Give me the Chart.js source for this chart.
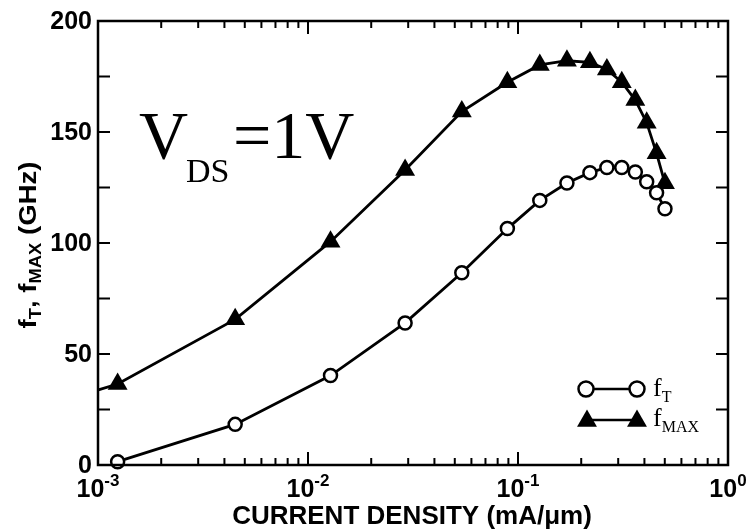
<!DOCTYPE html>
<html>
<head>
<meta charset="utf-8">
<script src="https://cdn.jsdelivr.net/npm/chart.js@4.4.0/dist/chart.umd.min.js"></script>
<style>
  html, body { margin: 0; padding: 0; background: #fff; }
  #wrap { width: 750px; height: 530px; }
</style>
</head>
<body>
<div id="wrap"><canvas id="freqChart" width="750" height="530"></canvas></div>
<script>
// ========== DATA ==========

const currentDensity = [0.00124, 0.0045, 0.0128, 0.029, 0.054, 0.089, 0.127, 0.171, 0.22, 0.265, 0.312, 0.362, 0.41, 0.457, 0.501];
const fT = [1.5, 18.3, 40.3, 64, 86.6, 106.5, 119.2, 127, 131.7, 134, 134, 132, 127.6, 122.6, 115.4];
const fMAX = [36.5, 65.6, 100.6, 132.9, 159.2, 172.4, 180.2, 182.1, 181.4, 178.2, 172.4, 164.4, 154.2, 140.4, 126.9];

// la curva de fMAX sigue por la izquierda del eje
const fmaxLeadDensity = 0.0005;
const fmaxLeadValue = 25;

const xDecades = [0.001, 0.01, 0.1, 1];
const xDecadeExponents = ['-3', '-2', '-1', '0'];
const yTicks = [0, 50, 100, 150, 200];
const yMinorStep = 25;

const SANS = '"Liberation Sans", Arial, sans-serif';
const SERIF = '"Liberation Serif", "Times New Roman", serif';

/**
 * Dibuja una serie de trozos de texto seguidos (para subíndices)
 * runs: [texto, tamaño, desplazamiento vertical, peso, fuente]
 */
function drawRuns(ctx, runs, x, y, align) {
    let total = 0;
    runs.forEach(r => {
        ctx.font = r[3] + ' ' + r[1] + 'px ' + (r[4] || SANS);
        r.w = ctx.measureText(r[0]).width;
        total += r.w;
    });
    let cx = align === 'center' ? x - total / 2 : x;
    ctx.textAlign = 'left';
    ctx.textBaseline = 'alphabetic';
    runs.forEach(r => {
        ctx.font = r[3] + ' ' + r[1] + 'px ' + (r[4] || SANS);
        ctx.fillText(r[0], cx, y + r[2]);
        cx += r.w;
    });
}

function drawCircle(ctx, x, y, r) {
    ctx.beginPath();
    ctx.arc(x, y, r, 0, Math.PI * 2);
    ctx.fillStyle = '#fff';
    ctx.fill();
    ctx.lineWidth = 2.5;
    ctx.strokeStyle = '#000';
    ctx.stroke();
}

function drawTriangle(ctx, x, y, r) {
    ctx.beginPath();
    ctx.moveTo(x, y - r);
    ctx.lineTo(x + r * Math.sin(Math.PI / 3), y + r / 2);
    ctx.lineTo(x - r * Math.sin(Math.PI / 3), y + r / 2);
    ctx.closePath();
    ctx.fillStyle = '#000';
    ctx.fill();
}

/**
 * Marco, marcas hacia dentro, etiquetas, títulos y leyenda
 */
const frameAndLabels = {
    id: 'frameAndLabels',
    afterDatasetsDraw(chart) {
        const { ctx, chartArea: a, scales: { x, y } } = chart;
        ctx.save();
        ctx.strokeStyle = '#000';
        ctx.fillStyle = '#000';

        // marcas del eje Y (izquierda y derecha)
        ctx.lineWidth = 2;
        ctx.beginPath();
        for (let v = yTicks[0]; v <= yTicks[yTicks.length - 1]; v += yMinorStep) {
            const py = y.getPixelForValue(v);
            ctx.moveTo(a.left, py); ctx.lineTo(a.left + 12, py);
            ctx.moveTo(a.right, py); ctx.lineTo(a.right - 12, py);
        }
        // marcas del eje X (abajo y arriba)
        xDecades.forEach((d, i) => {
            const last = i === xDecades.length - 1;
            for (let k = 1; k <= (last ? 1 : 9); k++) {
                const px = x.getPixelForValue(k * d);
                const len = k === 1 ? 13 : 7;
                ctx.moveTo(px, a.bottom); ctx.lineTo(px, a.bottom - len);
                ctx.moveTo(px, a.top); ctx.lineTo(px, a.top + len);
            }
        });
        ctx.stroke();

        // marco
        ctx.lineWidth = 2.5;
        ctx.strokeRect(a.left, a.top, a.right - a.left, a.bottom - a.top);

        // etiquetas Y
        ctx.font = 'bold 25px ' + SANS;
        ctx.textAlign = 'right';
        ctx.textBaseline = 'middle';
        yTicks.forEach(v => {
            ctx.fillText(String(v), a.left - 6, y.getPixelForValue(v) + 1);
        });

        // etiquetas X: 10 con exponente
        xDecades.forEach((d, i) => {
            drawRuns(ctx, [['10', 25, 0, 'bold'], [xDecadeExponents[i], 17, -11, 'bold']],
                x.getPixelForValue(d), 497, 'center');
        });

        // título X
        ctx.font = 'bold 26px ' + SANS;
        ctx.textAlign = 'center';
        ctx.textBaseline = 'alphabetic';
        ctx.fillText('CURRENT DENSITY (mA/\u03bcm)', 412, 524);

        // título Y (girado, algo estirado como en el original)
        ctx.save();
        ctx.translate(36, 245);
        ctx.rotate(-Math.PI / 2);
        ctx.scale(1.15, 1);
        drawRuns(ctx, [
            ['f', 24, 0, 'bold'], ['T', 16, 5, 'bold'], [', f', 24, 0, 'bold'],
            ['MAX', 16, 5, 'bold'], [' (GHz)', 24, 0, 'bold']
        ], 0, 0, 'center');
        ctx.restore();

        // anotación V_DS = 1V
        drawRuns(ctx, [['V', 68, 0, '', SERIF]], 139, 158, 'left');
        drawRuns(ctx, [['DS', 34, 0, '', SERIF]], 186, 182, 'left');
        drawRuns(ctx, [['=1V', 68, 0, '', SERIF]], 233, 158, 'left');

        // leyenda
        ctx.lineWidth = 2.5;
        ctx.beginPath();
        ctx.moveTo(586, 389); ctx.lineTo(637, 389);
        ctx.moveTo(587, 420); ctx.lineTo(637, 420);
        ctx.stroke();
        drawCircle(ctx, 586, 389, 7.5);
        drawCircle(ctx, 637, 389, 7.5);
        drawTriangle(ctx, 587, 421, 11.5);
        drawTriangle(ctx, 637, 421, 11.5);
        ctx.fillStyle = '#000';
        drawRuns(ctx, [['f', 26, 0, '', SERIF], ['T', 16, 6, '', SERIF]], 653, 396, 'left');
        drawRuns(ctx, [['f', 26, 0, '', SERIF], ['MAX', 16, 6, '', SERIF]], 653, 426, 'left');

        ctx.restore();
    }
};

const fmaxPoints = [{ x: fmaxLeadDensity, y: fmaxLeadValue }]
    .concat(currentDensity.map((d, i) => ({ x: d, y: fMAX[i] })));
const ftPoints = currentDensity.map((d, i) => ({ x: d, y: fT[i] }));

new Chart(document.getElementById('freqChart'), {
    type: 'line',
    data: {
        datasets: [
            {
                label: 'fT',
                data: ftPoints,
                borderColor: '#000',
                borderWidth: 2.8,
                tension: 0,
                pointStyle: 'circle',
                pointRadius: 6.5,
                pointBackgroundColor: '#fff',
                pointBorderColor: '#000',
                pointBorderWidth: 2.5,
                clip: false
            },
            {
                label: 'fMAX',
                data: fmaxPoints,
                borderColor: '#000',
                borderWidth: 2.8,
                tension: 0,
                pointStyle: 'triangle',
                pointRadius: 11.5,
                pointBackgroundColor: '#000',
                pointBorderColor: '#000',
                pointBorderWidth: 0
            }
        ]
    },
    options: {
        responsive: false,
        animation: false,
        layout: {
            autoPadding: false,
            padding: { left: 98, right: 22, top: 21, bottom: 65 }
        },
        scales: {
            x: { type: 'logarithmic', min: 0.001, max: 1, display: false },
            y: { type: 'linear', min: 0, max: 200, display: false }
        },
        plugins: {
            legend: { display: false },
            tooltip: { enabled: false }
        }
    },
    plugins: [frameAndLabels]
});
</script>
</body>
</html>
